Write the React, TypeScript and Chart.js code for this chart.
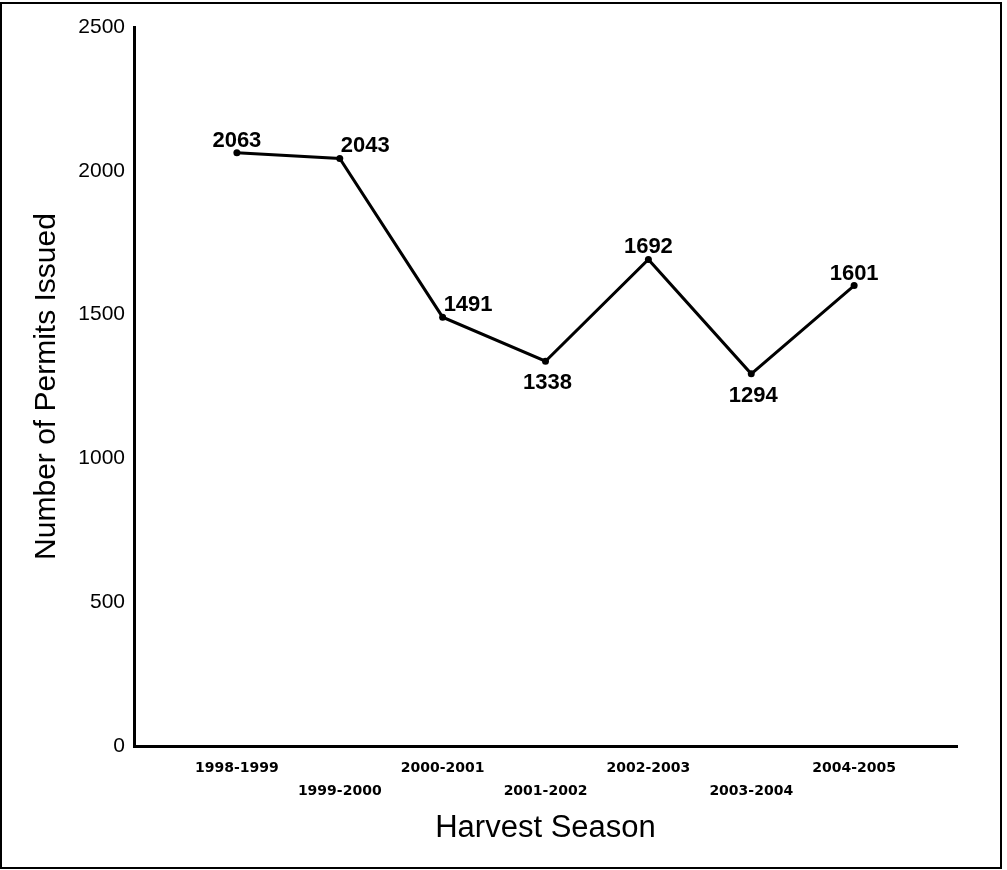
import React, { useEffect, useRef } from "react";
import { Chart, registerables } from "chart.js";

Chart.register(...registerables);

const seasons = [
  "1998-1999",
  "1999-2000",
  "2000-2001",
  "2001-2002",
  "2002-2003",
  "2003-2004",
  "2004-2005",
];
const permits = [2063, 2043, 1491, 1338, 1692, 1294, 1601];
const yTicks = [0, 500, 1000, 1500, 2000, 2500];

const labelPlacement = ["above", "aboveRight", "aboveRight", "below", "above", "below", "above"];

const SANS = "'Liberation Sans', Arial, sans-serif";

export default function App() {
  const ref = useRef<HTMLCanvasElement | null>(null);

  useEffect(() => {
    document.body.style.margin = "0";
    const canvas = ref.current;
    if (!canvas) return;

    const valueLabels = {
      id: "valueLabels",
      afterDatasetsDraw(chart: any) {
        const ctx = chart.ctx;
        const meta = chart.getDatasetMeta(0);
        ctx.save();
        ctx.fillStyle = "#000";
        ctx.font = `bold 22px ${SANS}`;
        ctx.textBaseline = "alphabetic";
        meta.data.forEach((pt: any, i: number) => {
          const txt = String(permits[i]);
          const p = labelPlacement[i];
          if (p === "above") {
            ctx.textAlign = "center";
            ctx.fillText(txt, pt.x, pt.y - 6);
          } else if (p === "aboveRight") {
            ctx.textAlign = "left";
            ctx.fillText(txt, pt.x + 1, pt.y - 6);
          } else {
            ctx.textAlign = "center";
            ctx.fillText(txt, pt.x + 2, pt.y + 28);
          }
        });
        ctx.restore();
      },
    };

    const frame = {
      id: "frame",
      afterDraw(chart: any) {
        const ctx = chart.ctx;
        ctx.save();
        ctx.strokeStyle = "#000";
        ctx.lineWidth = 2;
        ctx.strokeRect(1, 3, 1000, 865);
        ctx.restore();
      },
    };

    const chart = new Chart(canvas, {
      type: "line",
      data: {
        datasets: [
          {
            data: seasons.map((s, i) => ({ x: i + 1, y: permits[i] })),
            borderColor: "#000",
            backgroundColor: "#000",
            borderWidth: 3,
            pointRadius: 3.5,
            pointBackgroundColor: "#000",
            pointBorderWidth: 0,
            tension: 0,
          },
        ],
      },
      options: {
        animation: false,
        responsive: false,
        layout: { padding: { left: 0, right: 50, top: 27, bottom: 0 } },
        plugins: {
          legend: { display: false },
          tooltip: { enabled: false },
        },
        scales: {
          x: {
            type: "linear",
            min: 0,
            max: seasons.length + 1,
            grid: { display: false, drawTicks: false },
            border: { display: true, color: "#000", width: 3 },
            afterFit: (scale: any) => {
              scale.height = 124;
            },
            afterBuildTicks: (scale: any) => {
              scale.ticks = Array.from({ length: seasons.length + 2 }, (_, i) => ({ value: i }));
            },
            ticks: {
              autoSkip: false,
              maxRotation: 0,
              minRotation: 0,
              padding: 10,
              color: "#000",
              font: { family: "'DejaVu Sans', sans-serif", size: 14, weight: "bold", lineHeight: 1.7 },
              callback: (v: any) => {
                const i = Math.round(Number(v)) - 1;
                if (i < 0 || i >= seasons.length) return "";
                return i % 2 === 0 ? seasons[i] : ["", seasons[i]];
              },
            },
            title: {
              display: true,
              text: "Harvest Season",
              color: "#000",
              font: { family: SANS, size: 31, weight: "normal" },
              padding: { top: 0, bottom: 23 },
            },
          },
          y: {
            type: "linear",
            min: 0,
            max: 2500,
            grid: { display: false, drawTicks: false },
            border: { display: true, color: "#000", width: 3 },
            afterFit: (scale: any) => {
              scale.width = 134;
            },
            afterBuildTicks: (scale: any) => {
              scale.ticks = yTicks.map((v) => ({ value: v }));
            },
            ticks: {
              padding: 9,
              color: "#000",
              font: { family: SANS, size: 21, weight: "normal" },
              callback: (v: any) => String(v),
            },
            title: {
              display: true,
              text: "Number of Permits Issued",
              color: "#000",
              font: { family: SANS, size: 30, weight: "normal" },
              padding: { top: 29, bottom: 0 },
            },
          },
        },
      },
      plugins: [valueLabels, frame],
    } as any);

    return () => chart.destroy();
  }, []);

  return (
    <div style={{ width: 1007, height: 870, background: "#fff" }}>
      <canvas ref={ref} width={1007} height={870} style={{ display: "block" }} />
    </div>
  );
}
